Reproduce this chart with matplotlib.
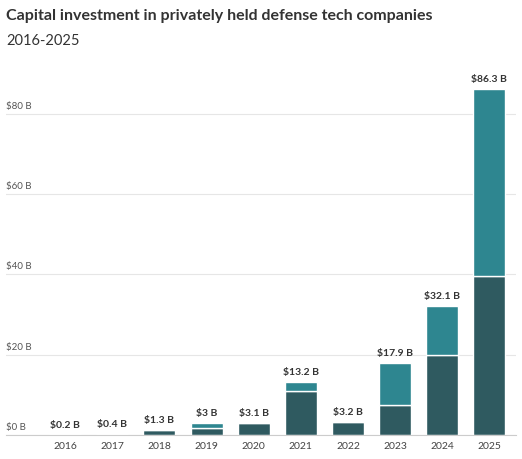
import numpy as np
import matplotlib.pyplot as plt
import matplotlib.transforms as mtransforms

years = ['2016', '2017', '2018', '2019', '2020', '2021', '2022', '2023', '2024', '2025']
dark = [0.2, 0.4, 1.3, 1.9, 3.1, 11.0, 3.2, 7.5, 19.9, 39.6]
teal = [0.0, 0.0, 0.0, 1.1, 0.0, 2.2, 0.0, 10.4, 12.2, 46.7]
totals = ['$0.2 B', '$0.4 B', '$1.3 B', '$3 B', '$3.1 B', '$13.2 B', '$3.2 B', '$17.9 B', '$32.1 B', '$86.3 B']
yticks = [0, 20, 40, 60, 80]
ylabels = ['$0 B', '$20 B', '$40 B', '$60 B', '$80 B']

plt.rcParams['font.family'] = ['Lato', 'DejaVu Sans']
fig = plt.figure(figsize=(5.22, 4.59), dpi=100)
ax = fig.add_axes([0.012, 0.052, 0.977, 0.77])
x = np.arange(len(years))
ax.bar(x, dark, width=0.68, color='#2f5a60', edgecolor='white', linewidth=1)
ax.bar(x, teal, bottom=dark, width=0.68, color='#2e8690', edgecolor='white', linewidth=1)
for i, t in enumerate(totals):
    ax.text(x[i], dark[i] + teal[i] + 1.2, t, ha='center', va='bottom', fontsize=7.5,
            fontweight='bold', color='#333333')
ax.set_xlim(-1.25, 9.57)
ax.set_ylim(0, 88)
ax.set_xticks(x)
ax.set_xticklabels(years, fontsize=7.5, color='#444444')
ax.set_yticks(yticks)
ax.set_yticklabels([])
ax.tick_params(axis='y', length=0)
trans = mtransforms.blended_transform_factory(ax.transAxes, ax.transData)
for v, lab in zip(yticks, ylabels):
    ax.text(0.0, v + 0.8, lab, transform=trans, ha='left', va='bottom', fontsize=7, color='#555555')
ax.tick_params(axis='x', length=0, pad=5)
ax.grid(axis='y', color='#e6e6e6', linewidth=0.8)
ax.set_axisbelow(True)
for s in ['top', 'right', 'left']:
    ax.spines[s].set_visible(False)
ax.spines['bottom'].set_color('#cccccc')
fig.text(0.012, 0.965, 'Capital investment in privately held defense tech companies',
         fontsize=11.5, fontweight='bold', color='#333333', va='center')
fig.text(0.012, 0.91, '2016-2025', fontsize=10.5, color='#333333', va='center')
fig.savefig('out.png', dpi=100)
